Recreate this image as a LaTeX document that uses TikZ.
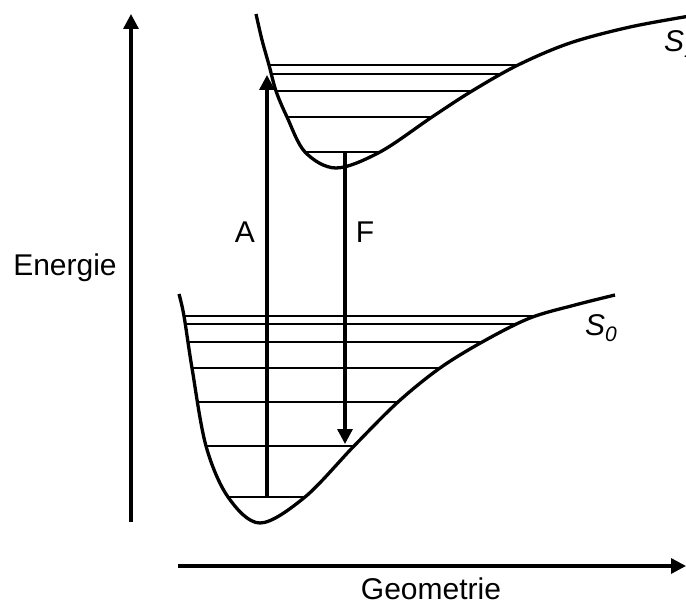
\documentclass[tikz,border=0pt]{standalone}
\usepackage{fontspec}
\setmainfont{Liberation Sans}
\usetikzlibrary{arrows.meta}

\begin{document}
\begin{tikzpicture}[x=1pt, y=-1pt, every node/.style={font=\fontsize{30}{34}\selectfont, inner sep=0pt}, >={Triangle[length=15pt, width=15pt]},
	curve/.style={line width=3.3pt},
	level/.style={line width=1.7pt},
	trans/.style={line width=3.3pt, ->}]
	\useasboundingbox (0,0) rectangle (686,604);
	% axes
	\coordinate (e0) at (131,522);
	\coordinate (e1) at (131,14);
	\coordinate (g0) at (178,566);
	\coordinate (g1) at (686,566);
	\draw[line width=3.3pt, ->] (e0) -- (e1);
	\draw[line width=3.3pt, ->] (g0) -- (g1);
	\node[anchor=base] (energie) at (65,276) {Energie};
	\node[anchor=base] (geometrie) at (431,599) {Geometrie};
	% S0 levels
	\foreach \ya/\xl/\xr in {316/184/537, 324/185/515, 342/187/482, 368/192/440, 402/198/398, 446/206/354, 497/228/305}
		\draw[level] (\xl,\ya) -- (\xr,\ya);
	% S1 levels
	\foreach \ya/\xl/\xr in {65/269/518, 74/272/502, 91/276/472, 117/287/432, 152/305/380}
		\draw[level] (\xl,\ya) -- (\xr,\ya);
	% potential curves
	\draw[curve] plot[smooth, tension=0.55] coordinates {(179,294) (184,316) (192,368) (206,446) (228,497) (260,523) (305,497) (354,446) (398,402) (440,368) (484,341) (530,318) (575,305) (615,295)};
	\draw[curve] plot[smooth, tension=0.55] coordinates {(256,14) (262,40) (269,65) (276,91) (287,117) (305,152) (336,168) (380,152) (432,117) (472,91) (518,65) (570,43) (630,27) (690,16)};
	\node[anchor=base west] (s0) at (585,335) {\itshape S\textsubscript{0}};
	\node[anchor=base west] (s1) at (664,52) {\itshape S\textsubscript{1}};
	% transitions
	\coordinate (a0) at (267,497);
	\coordinate (a1) at (267,75);
	\coordinate (f0) at (345,152);
	\coordinate (f1) at (345,444);
	\draw[trans] (a0) -- (a1);
	\draw[trans] (f0) -- (f1);
	\node[anchor=base] (labA) at (245,243) {A};
	\node[anchor=base] (labF) at (365,243) {F};
\end{tikzpicture}
\end{document}
